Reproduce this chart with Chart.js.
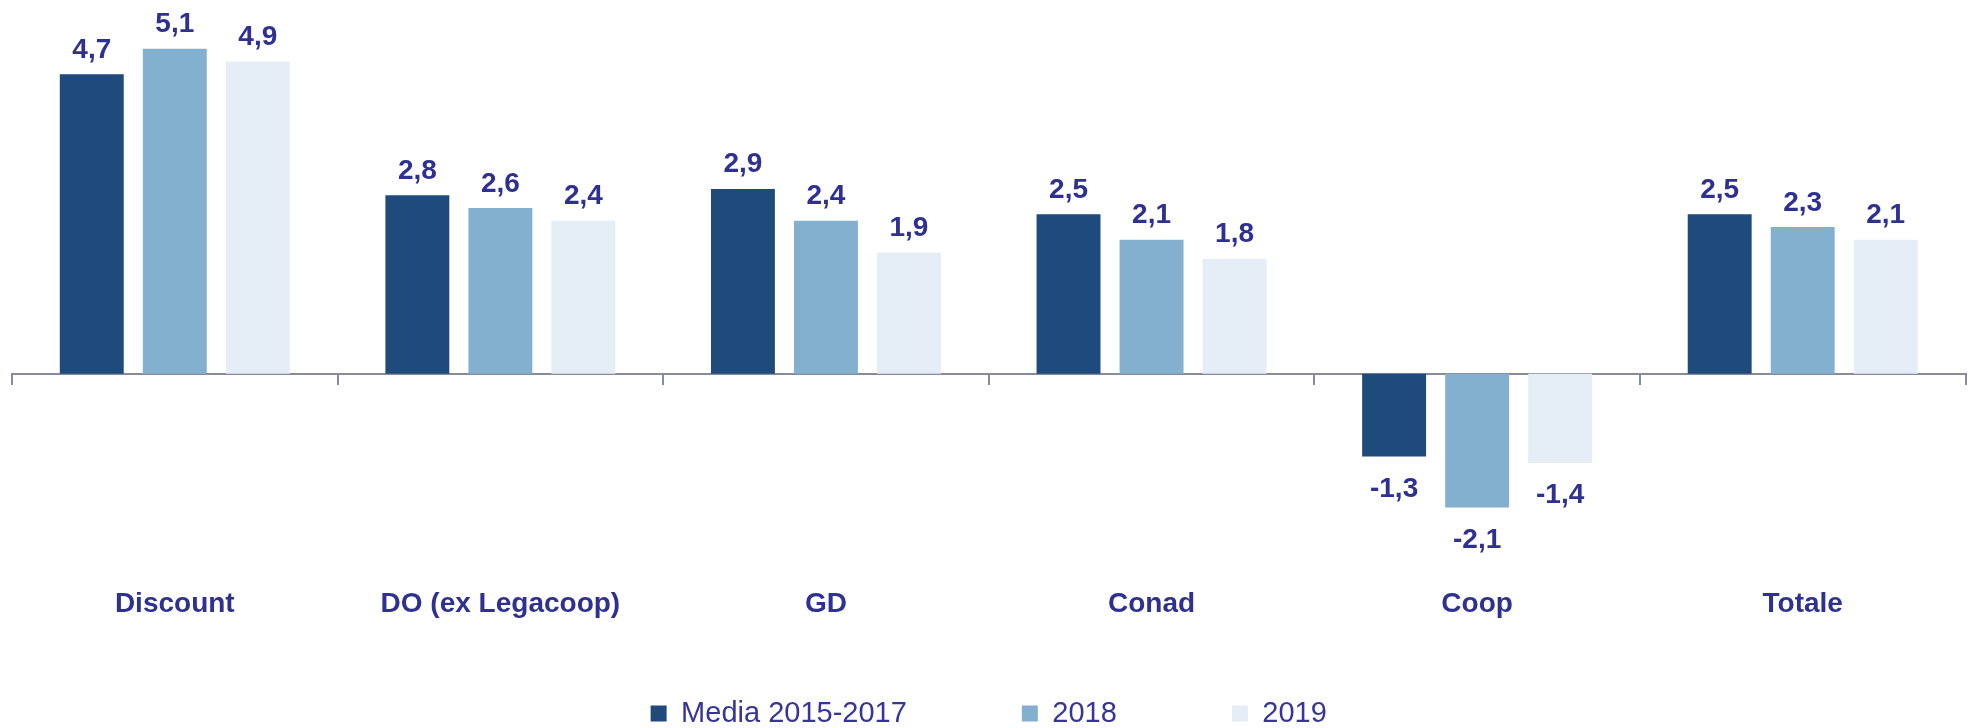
<!DOCTYPE html>
<html>
<head>
<meta charset="utf-8">
<script src="https://cdn.jsdelivr.net/npm/chart.js@4.4.1/dist/chart.umd.min.js"></script>
<style>
  html, body { margin: 0; padding: 0; background: #ffffff; overflow: hidden; }
  #wrap { width: 1973px; height: 738px; }
</style>
</head>
<body>
<div id="wrap"><canvas id="c" width="1973" height="738"></canvas></div>
<script>
const categories = ['Discount', 'DO (ex Legacoop)', 'GD', 'Conad', 'Coop', 'Totale'];
const seriesNames = ['Media 2015-2017', '2018', '2019'];
const media20152017 = [4.7, 2.8, 2.9, 2.5, -1.3, 2.5];
const values2018 = [5.1, 2.6, 2.4, 2.1, -2.1, 2.3];
const values2019 = [4.9, 2.4, 1.9, 1.8, -1.4, 2.1];

const seriesColors = ['#1f4a7c', '#83b0ce', '#e5edf6'];
const textColor = '#2e3192';
const axisColor = '#878b9d';

const valueLabels = {
  id: 'valueLabels',
  afterDatasetsDraw(chart) {
    const ctx = chart.ctx;
    ctx.save();
    ctx.font = 'bold 28px "Liberation Sans", Arial, sans-serif';
    ctx.fillStyle = textColor;
    ctx.textAlign = 'center';
    ctx.textBaseline = 'alphabetic';
    chart.data.datasets.forEach((ds, i) => {
      const meta = chart.getDatasetMeta(i);
      meta.data.forEach((bar, j) => {
        const v = ds.data[j];
        const y = v >= 0 ? bar.y - 16.5 : bar.y + 40;
        ctx.fillText(String(v).replace('.', ','), bar.x, y);
      });
    });
    ctx.restore();
  }
};

new Chart(document.getElementById('c'), {
  type: 'bar',
  data: {
    labels: categories,
    datasets: [
      { label: seriesNames[0], data: media20152017, backgroundColor: seriesColors[0] },
      { label: seriesNames[1], data: values2018, backgroundColor: seriesColors[1] },
      { label: seriesNames[2], data: values2019, backgroundColor: seriesColors[2] }
    ]
  },
  options: {
    responsive: false,
    devicePixelRatio: 1,
    animation: false,
    layout: { padding: { top: 20, left: 12, right: 7.5, bottom: 0 } },
    datasets: {
      bar: { categoryPercentage: 0.765, barPercentage: 0.77, borderWidth: 0 }
    },
    scales: {
      x: {
        type: 'category',
        axis: 'x',
        position: { y: 0 },
        offset: true,
        grid: {
          offset: true,
          drawOnChartArea: false,
          drawTicks: true,
          tickLength: 10,
          color: axisColor,
          lineWidth: 2
        },
        border: { display: true, color: axisColor, width: 2 },
        ticks: {
          padding: 207,
          color: textColor,
          font: { family: '"Liberation Sans", Arial, sans-serif', size: 28, weight: 'bold', lineHeight: 1 },
          maxRotation: 0,
          autoSkip: false
        },
        afterFit: (scale) => {
          scale.height = 0;
          scale.paddingLeft = 0;
          scale.paddingRight = 0;
          scale.paddingTop = 0;
          scale.paddingBottom = 0;
        }
      },
      y: {
        display: false,
        min: -3.3,
        max: 5.55,
        grid: { display: false }
      }
    },
    plugins: {
      legend: {
        display: true,
        position: 'bottom',
        labels: {
          boxWidth: 16,
          boxHeight: 16,
          padding: 115,
          color: '#35359a',
          font: { family: '"Liberation Sans", Arial, sans-serif', size: 29, weight: 'normal' }
        }
      },
      tooltip: { enabled: false }
    }
  },
  plugins: [valueLabels]
});
</script>
</body>
</html>
